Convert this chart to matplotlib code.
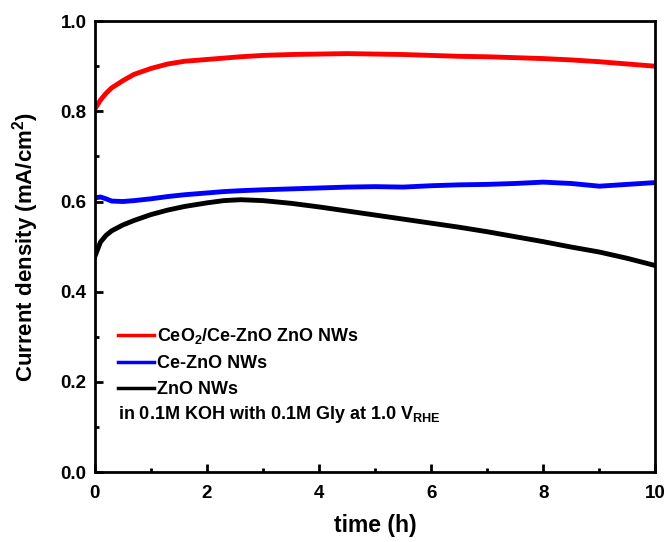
import numpy as np
import matplotlib.pyplot as plt
from matplotlib.ticker import MultipleLocator

plt.rcParams['font.family'] = ['Liberation Sans', 'DejaVu Sans']
plt.rcParams['font.weight'] = 'bold'
plt.rcParams['mathtext.fontset'] = 'custom'
plt.rcParams['mathtext.rm'] = 'Liberation Sans:bold'
plt.rcParams['mathtext.it'] = 'Liberation Sans:bold'
plt.rcParams['mathtext.default'] = 'rm'

# values
t = [0, 0.1, 0.2, 0.3, 0.5, 0.7, 1.0, 1.3, 1.6, 2.0, 2.3, 2.6, 3.0, 3.5, 4.0,
     4.5, 5.0, 5.5, 6.0, 6.5, 7.0, 7.5, 8.0, 8.5, 9.0, 9.5, 10.0]
ceo2 = [0.805, 0.825, 0.84, 0.852, 0.868, 0.882, 0.895, 0.905, 0.911, 0.915, 0.918, 0.921, 0.924, 0.926, 0.927,
        0.928, 0.927, 0.926, 0.924, 0.922, 0.921, 0.919, 0.917, 0.914, 0.91, 0.905, 0.90]
ce_zno = [0.608, 0.61, 0.606, 0.601, 0.6, 0.602, 0.606, 0.611, 0.615, 0.619, 0.622, 0.624, 0.626, 0.628, 0.63,
          0.632, 0.633, 0.632, 0.635, 0.637, 0.638, 0.64, 0.643, 0.64, 0.634, 0.638, 0.642]
zno = [0.478, 0.51, 0.525, 0.535, 0.548, 0.558, 0.571, 0.581, 0.589, 0.597, 0.602, 0.604, 0.602, 0.596, 0.588,
       0.579, 0.57, 0.561, 0.552, 0.543, 0.533, 0.522, 0.511, 0.499, 0.488, 0.474, 0.458]

fig, ax = plt.subplots(figsize=(6.68, 5.42), dpi=100)
fig.subplots_adjust(left=0.142, right=0.981, top=0.961, bottom=0.129)

ax.plot(t, ceo2, color='#ff0000', lw=3.5, label='CeO$_2$/Ce-ZnO ZnO NWs')
ax.plot(t, ce_zno, color='#0000ff', lw=3.5, label='Ce-ZnO NWs')
ax.plot(t, zno, color='black', lw=3.5, label='ZnO NWs')

ax.set_xlim(0, 10)
ax.set_ylim(0, 1.0)
ax.xaxis.set_major_locator(MultipleLocator(2))
ax.xaxis.set_minor_locator(MultipleLocator(1))
ax.yaxis.set_major_locator(MultipleLocator(0.2))
ax.yaxis.set_minor_locator(MultipleLocator(0.1))
ax.yaxis.set_major_formatter(plt.FormatStrFormatter('%.1f'))
ax.tick_params(which='both', direction='in', width=2, labelsize=13.5)
ax.tick_params(which='major', length=6)
ax.tick_params(which='minor', length=3)
ax.tick_params(axis='y', which='major', pad=6)
ax.tick_params(axis='x', which='major', pad=9)
for s in ax.spines.values():
    s.set_linewidth(2)

ax.set_xlabel('time (h)', fontsize=16.5, fontweight='bold', labelpad=9)
ax.set_ylabel('Current density (mA/cm$^2$)', fontsize=16, fontweight='bold', labelpad=14)

leg = ax.legend(loc='upper left', bbox_to_anchor=(0.028, 0.34), frameon=False, fontsize=13,
                handlelength=2.0, handletextpad=0.15, labelspacing=0.5, borderaxespad=0)
for h in leg.get_lines():
    h.set_linewidth(2.5)
ax.text(0.041, 0.118, 'in 0.1M KOH with 0.1M Gly at 1.0 V$_{RHE}$', transform=ax.transAxes,
        fontsize=13, fontweight='bold')

fig.savefig('out.png')
